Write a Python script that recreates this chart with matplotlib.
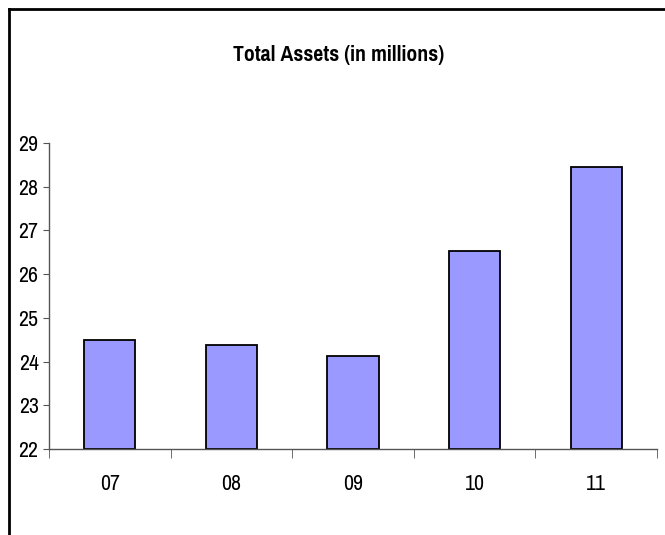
import numpy as np
import matplotlib
matplotlib.use('Agg')
import matplotlib.pyplot as plt
from matplotlib.lines import Line2D

plt.rcParams['font.family'] = ['Pragati Narrow', 'DejaVu Sans']

# data
years = ['07', '08', '09', '10', '11']
assets = [24.49, 24.38, 24.13, 26.52, 28.46]
y_ticks = [22, 23, 24, 25, 26, 27, 28, 29]

fig = plt.figure(figsize=(6.65, 5.35), dpi=100)
ax = fig.add_axes([0.0737, 0.1607, 0.9143, 0.572])

x = np.arange(len(years))
ax.bar(x, np.array(assets) - 22, bottom=22, width=0.42,
       color='#9999FF', edgecolor='black', linewidth=1.3)

ax.set_xlim(-0.5, len(years) - 0.5)
ax.set_ylim(22, 29)
ax.set_yticks(y_ticks)
ax.set_yticklabels([str(t) for t in y_ticks], fontsize=17)
ax.set_xticks(x)
ax.set_xticklabels(years, fontsize=17)
ax.tick_params(axis='x', which='major', length=0, pad=18)
ax.set_xticks(np.arange(len(years) + 1) - 0.5, minor=True)
ax.tick_params(axis='x', which='minor', length=6.5, direction='out', color='#555555')
ax.tick_params(axis='y', length=4, direction='out', color='#555555', pad=3.5)

for s in ['top', 'right']:
    ax.spines[s].set_visible(False)
for s in ['left', 'bottom']:
    ax.spines[s].set_color('#555555')
    ax.spines[s].set_linewidth(1.0)

fig.text(0.509, 0.897, 'Total Assets (in millions)', ha='center', va='center',
         fontsize=17, fontweight='bold')

# outer frame (only top and left edges visible)
fig.add_artist(Line2D([9 / 665, 1], [1 - 9 / 535, 1 - 9 / 535],
                      transform=fig.transFigure, color='black', linewidth=2))
fig.add_artist(Line2D([9 / 665, 9 / 665], [0, 1 - 9 / 535],
                      transform=fig.transFigure, color='black', linewidth=2))

fig.savefig('out.png', dpi=100)
